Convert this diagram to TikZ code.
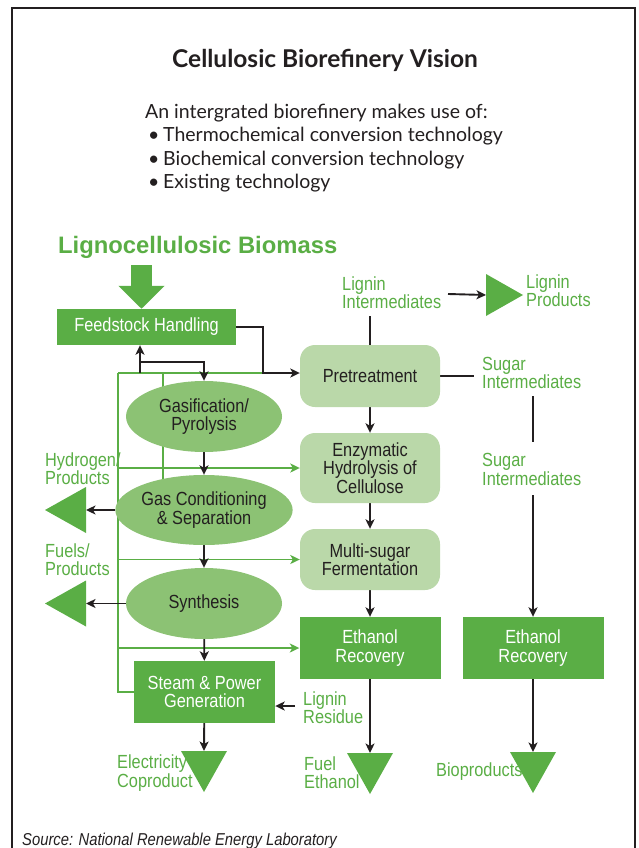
\documentclass[tikz,border=0pt]{standalone}
\usepackage{fontspec}
\setmainfont{Lato}
\newfontfamily\condfont[FakeStretch=0.86]{Liberation Sans}
\newfontfamily\headfont{Liberation Sans}
\usetikzlibrary{arrows.meta,shapes.geometric,backgrounds}
\definecolor{LeafGreen}{HTML}{5AAE45}
\definecolor{MidGreen}{HTML}{8CC274}
\definecolor{PaleGreen}{HTML}{BAD8A9}
\definecolor{InkBlack}{HTML}{231F20}

\begin{document}
\begin{tikzpicture}[x=1pt,y=-1pt,
	diagtext/.style={font=\condfont\fontsize{19}{18.3}\selectfont},
	solidbox/.style={diagtext,rectangle,fill=LeafGreen,text=white,align=center,minimum width=141pt,minimum height=62pt,inner sep=0pt},
	softbox/.style={diagtext,rectangle,rounded corners=15pt,fill=PaleGreen,text=InkBlack,align=center,minimum width=140pt,inner sep=0pt},
	oval/.style={diagtext,ellipse,fill=MidGreen,text=InkBlack,align=center,minimum width=156pt,minimum height=71pt,inner sep=0pt},
	greentext/.style={diagtext,text=LeafGreen,align=left,anchor=west,inner sep=0pt},
	flow/.style={InkBlack,line width=1.9pt,-{Stealth[length=9.5pt,width=9pt,inset=2.5pt]}},
	plainflow/.style={InkBlack,line width=1.9pt},
	utility/.style={LeafGreen,line width=1.8pt},
	utilflow/.style={utility,-{Stealth[length=9.5pt,width=9pt,inset=2.5pt]}},
	bigarrow/.style={LeafGreen,line width=21pt,-{Triangle[length=23pt,width=45pt]}},
	downtri/.pic={\fill[LeafGreen] (-23,0) -- (23,0) -- (0,41) -- cycle;},
	lefttri/.pic={\fill[LeafGreen] (0,-23) -- (0,23) -- (-41,0) -- cycle;},
	righttri/.pic={\fill[LeafGreen] (0,-21) -- (0,21) -- (37,0) -- cycle;},
	]
	\useasboundingbox (0,0) rectangle (639,848);
	\draw[InkBlack,line width=1.3pt] (12,850) -- (12,8) -- (635,8) -- (635,850);

	\node[font=\bfseries\fontsize{24.5}{27}\selectfont,text=InkBlack] (Title) at (325,60) {Cellulosic Biorefinery Vision};
	\node[anchor=north west,align=left,inner sep=0pt,font=\fontsize{19.5}{23.5}\selectfont,text=InkBlack] (Intro) at (145,103.5)
		{An intergrated biorefinery makes use of:\\
		\makebox[18pt][l]{\hspace{3pt}\textbullet}Thermochemical conversion technology\\
		\makebox[18pt][l]{\hspace{3pt}\textbullet}Biochemical conversion technology\\
		\makebox[18pt][l]{\hspace{3pt}\textbullet}Existing technology};
	\node[font=\headfont\bfseries\fontsize{23.8}{26}\selectfont,text=LeafGreen,anchor=west,inner sep=0pt] (Biomass) at (58,247) {Lignocellulosic Biomass};

	\node[solidbox,minimum width=179pt,minimum height=36pt] (Feedstock) at (146.5,327) {Feedstock Handling};
	\node[oval] (Gasification) at (204,416.5) {Gasification/\\Pyrolysis};
	\node[oval,minimum height=70pt] (GasCond) at (204,510) {Gas Conditioning\\\& Separation};
	\node[oval] (Synthesis) at (204,603.5) {Synthesis};
	\node[solidbox] (SteamPower) at (204.5,692) {Steam \& Power\\Generation};
	\node[softbox,minimum height=62pt] (Pretreatment) at (370,376) {Pretreatment};
	\node[softbox,minimum height=70pt] (Hydrolysis) at (370,468) {Enzymatic\\Hydrolysis of\\Cellulose};
	\node[softbox,minimum height=61pt] (Fermentation) at (370,559.5) {Multi-sugar\\Fermentation};
	\node[solidbox] (EthRecLeft) at (370,648) {Ethanol\\Recovery};
	\node[solidbox] (EthRecRight) at (533,648) {Ethanol\\Recovery};

	\node[greentext] (LigInt) at (342,293) {Lignin\\Intermediates};
	\node[greentext] (LigProd) at (526,291) {Lignin\\Products};
	\node[greentext] (SugarIntA) at (482,373) {Sugar\\Intermediates};
	\node[greentext] (SugarIntB) at (482,469.5) {Sugar\\Intermediates};
	\node[greentext] (HydrogenProd) at (45,468.5) {Hydrogen/\\Products};
	\node[greentext] (FuelsProd) at (45,560) {Fuels/\\Products};
	\node[greentext] (LigRes) at (303,707.5) {Lignin\\Residue};
	\node[greentext] (ElecCo) at (117,773) {Electricity\\Coproduct};
	\node[greentext] (FuelEth) at (304,773) {Fuel\\Ethanol};
	\node[greentext] (BioProd) at (436,772) {Bioproducts};
	\node[anchor=west,inner sep=0pt,font=\condfont\itshape\fontsize{17.2}{20}\selectfont,text=InkBlack] (Source) at (22,841.5) {Source: National Renewable Energy Laboratory};

	\coordinate (BigArrowTop) at (141.5,265);
	\coordinate (FeedTurn) at (263,373);
	\coordinate (LoopTL) at (118,373);
	\coordinate (LoopBL) at (118,692);
	\coordinate (InnerTop) at (163,373);
	\coordinate (InnerEnd) at (163,490);
	\coordinate (RecycleFoot) at (140,373);
	\coordinate (RecycleSplit) at (140,362);
	\coordinate (LigTop) at (370,316);
	\coordinate (LigArrowStart) at (448,294);
	\coordinate (LigProdTri) at (486,295);
	\coordinate (SugarTurn) at (474,376);
	\coordinate (SugarMidTop) at (533,396);
	\coordinate (SugarMidEnd) at (533,442);
	\coordinate (SugarLowTop) at (533,495);
	\coordinate (ResidueStart) at (295,706);
	\coordinate (HydroTri) at (86,510);
	\coordinate (FuelsTri) at (86,603.5);
	\coordinate (ElecTri) at (204,751);
	\coordinate (FuelTri) at (370,753);
	\coordinate (BioTri) at (533,752);

	\pic at (ElecTri) {downtri};
	\pic at (FuelTri) {downtri};
	\pic at (BioTri) {downtri};
	\pic at (HydroTri) {lefttri};
	\pic at (FuelsTri) {lefttri};
	\pic at (LigProdTri) {righttri};

	\begin{scope}[on background layer]
		\draw[utility] (LoopTL) -- (FeedTurn);
		\draw[utility] (LoopTL) -- (LoopBL) -- (SteamPower.west |- LoopBL);
		\draw[utility] (InnerTop) -- (InnerEnd);
		\draw[utilflow] (LoopTL |- Hydrolysis.west) -- (Hydrolysis.west);
		\draw[utilflow] (LoopTL |- Fermentation.west) -- (Fermentation.west);
		\draw[utilflow] (LoopTL |- EthRecLeft.west) -- (EthRecLeft.west);

		\draw[bigarrow] (BigArrowTop) -- (BigArrowTop |- Feedstock.north);
		\draw[flow] (Feedstock.east) -| (FeedTurn) -- (FeedTurn -| Pretreatment.west);
		\draw[flow] (RecycleFoot) -- (RecycleFoot |- Feedstock.south);
		\draw[flow] (RecycleSplit) -| (Gasification.north);
		\draw[flow] (Gasification) -- (GasCond);
		\draw[flow] (GasCond) -- (Synthesis);
		\draw[flow] (Synthesis) -- (SteamPower);
		\draw[flow] (SteamPower) -- (ElecTri);
		\draw[flow] (GasCond) -- (HydroTri);
		\draw[flow] (Synthesis) -- (FuelsTri);
		\draw[flow] (Pretreatment) -- (Hydrolysis);
		\draw[flow] (Hydrolysis) -- (Fermentation);
		\draw[flow] (Fermentation) -- (EthRecLeft);
		\draw[flow] (EthRecLeft) -- (FuelTri);
		\draw[flow] (EthRecRight) -- (BioTri);
		\draw[plainflow] (Pretreatment) -- (LigTop);
		\draw[flow] (LigArrowStart) -- (LigProdTri);
		\draw[plainflow] (Pretreatment) -- (SugarTurn);
		\draw[plainflow] (SugarMidTop) -- (SugarMidEnd);
		\draw[flow] (SugarLowTop) -- (EthRecRight);
		\draw[flow] (ResidueStart) -- (ResidueStart -| SteamPower.east);
	\end{scope}
\end{tikzpicture}
\end{document}
